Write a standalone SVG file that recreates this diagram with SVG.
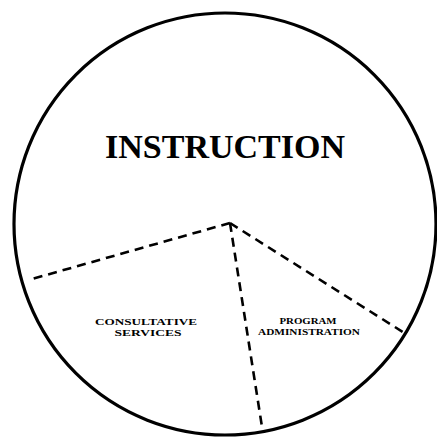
<svg xmlns="http://www.w3.org/2000/svg" width="437" height="440" viewBox="0 0 437 440">
<style>
.dash{fill:none;stroke:#000;stroke-width:2.6;stroke-dasharray:9 6}
.lbl{font-family:"Liberation Serif",serif;font-weight:bold;fill:#000}
.sm{font-size:9px}
</style>
<rect width="437" height="440" fill="#fff"/>
<g id="circle">
<circle cx="225" cy="224" r="211" fill="none" stroke="#000" stroke-width="3.2"/>
</g>
<g id="connectors">
<line class="dash" x1="230" y1="223" x2="32" y2="279"/>
<line class="dash" x1="230" y1="223" x2="406" y2="334"/>
<line class="dash" x1="230" y1="223" x2="262" y2="427"/>
</g>
<g id="instruction">
<text class="lbl" x="225" y="158" font-size="33" text-anchor="middle" textLength="240" lengthAdjust="spacingAndGlyphs">INSTRUCTION</text>
</g>
<g id="consultative">
<text class="lbl sm" x="146" y="325" text-anchor="middle" textLength="102" lengthAdjust="spacingAndGlyphs">CONSULTATIVE</text>
<text class="lbl sm" x="148" y="336" text-anchor="middle" textLength="67" lengthAdjust="spacingAndGlyphs">SERVICES</text>
</g>
<g id="program">
<text class="lbl sm" x="308" y="324" text-anchor="middle" textLength="57" lengthAdjust="spacingAndGlyphs">PROGRAM</text>
<text class="lbl sm" x="309" y="335" text-anchor="middle" textLength="102" lengthAdjust="spacingAndGlyphs">ADMINISTRATION</text>
</g>
</svg>
